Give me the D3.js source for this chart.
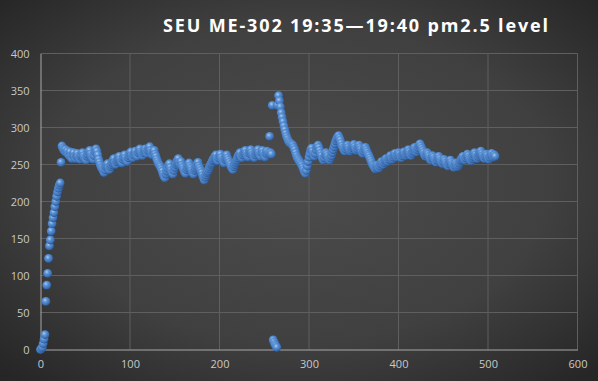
<!DOCTYPE html>
<html><head><meta charset="utf-8">
<script src="https://cdn.jsdelivr.net/npm/d3@7"></script>
<style>html,body{margin:0;padding:0;background:#333;}svg{display:block;}</style>
</head><body>
<script>
const titleText = "SEU ME-302 19:35\u201419:40 pm2.5 level";
const xTicks = [0, 100, 200, 300, 400, 500, 600];
const yTicks = [0, 50, 100, 150, 200, 250, 300, 350, 400];
// pm2.5 readings, one per sample index (x = sample number)
const pm25 = [
0,1,3,8,14,20,65,87,103,123,
140,148,160,170,178,185,193,200,207,213,
218,222,225,253,275,272,270,268,270,266,
268,264,262,267,261,258,263,266,261,258,262,265,261,259,257,
261,263,266,262,259,257,256,261,264,267,269,264,261,259,257,
262,267,271,268,263,257,253,249,246,244,242,239,243,247,249,
251,246,243,247,250,253,256,258,253,250,254,257,259,261,257,
254,252,257,260,263,259,256,254,259,262,265,267,262,259,263,
266,268,263,261,266,269,271,267,265,262,266,269,271,268,265,
269,272,274,269,266,263,267,269,264,261,257,254,251,249,247,
244,241,237,234,232,237,241,245,249,251,246,242,239,237,242,
246,250,253,256,258,253,250,254,249,246,243,240,238,243,246,
249,252,248,245,242,239,237,242,245,248,251,253,248,245,242,
239,235,232,229,233,236,239,241,244,247,250,252,255,257,259,
261,263,258,255,259,262,264,259,256,254,252,257,260,263,259,
256,253,250,247,245,243,247,250,253,256,259,262,264,266,261,
259,263,266,268,269,265,262,260,265,268,270,266,263,261,259,
263,266,268,270,266,263,261,266,269,265,262,260,265,268,264,
266,288,266,264,330,
13,10,7,5,3,
330,343,336,328,320,314,308,302,297,292,288,285,282,280,279,
278,277,276,273,270,266,262,259,257,255,253,251,249,246,243,240,
238,242,248,254,260,265,270,272,268,264,261,265,270,274,276,273,269,265,262,258,256,259,263,266,
264,261,258,256,259,262,266,270,274,278,282,285,287,289,286,
283,279,275,272,270,268,271,274,276,273,270,268,270,273,275,
277,274,271,269,271,274,276,273,270,267,265,268,271,273,270,
267,264,262,259,256,253,250,248,246,244,246,249,247,245,248,
251,254,252,250,253,256,258,256,254,257,260,262,259,257,260,
263,265,262,260,263,266,264,261,259,262,265,267,264,262,265,
268,270,267,264,262,265,268,271,273,270,267,270,273,276,278,
275,272,269,266,263,261,263,266,264,261,258,256,259,262,260,
257,255,253,256,259,261,258,255,253,251,254,257,255,252,250,
248,251,254,256,253,250,248,246,249,252,250,247,249,252,255,
257,259,261,258,256,259,262,264,262,259,257,255,258,261,264,
266,263,260,258,261,264,266,268,265,262,260,258,261,264,262,
259,257,260,263,265,262,260,263,261
];

const W = 598, H = 381;
const svg = d3.select("body").append("svg").attr("width", W).attr("height", H);
const defs = svg.append("defs");

const bg = defs.append("radialGradient").attr("id", "bg")
  .attr("cx", "50%").attr("cy", "48%").attr("r", "70%");
bg.append("stop").attr("offset", "0%").attr("stop-color", "#4c4c4c");
bg.append("stop").attr("offset", "60%").attr("stop-color", "#404040");
bg.append("stop").attr("offset", "100%").attr("stop-color", "#262626");

const ball = defs.append("radialGradient").attr("id", "ball")
  .attr("cx", "40%").attr("cy", "35%").attr("r", "65%");
ball.append("stop").attr("offset", "0%").attr("stop-color", "#a9cdf3");
ball.append("stop").attr("offset", "35%").attr("stop-color", "#5b93d6");
ball.append("stop").attr("offset", "80%").attr("stop-color", "#3d70b3");
ball.append("stop").attr("offset", "100%").attr("stop-color", "#2c5590");

svg.append("rect").attr("width", W).attr("height", H).attr("fill", "url(#bg)");

const x = d3.scaleLinear().domain([0, 600]).range([40.5, 577.5]);
const y = d3.scaleLinear().domain([0, 400]).range([349.5, 53.5]);

// gridlines
const grid = svg.append("g");
grid.selectAll(".hg").data(yTicks.filter(d => d > 0)).join("line")
  .attr("x1", x(0)).attr("x2", x(600)).attr("y1", d => y(d)).attr("y2", d => y(d))
  .attr("stroke", "#5f5f5f").attr("stroke-width", 1);
grid.selectAll(".vg").data(xTicks.filter(d => d > 0)).join("line")
  .attr("y1", y(0)).attr("y2", y(400)).attr("x1", d => x(d)).attr("x2", d => x(d))
  .attr("stroke", "#5f5f5f").attr("stroke-width", 1);

// axes
const xAxis = svg.append("g").attr("transform", `translate(0,${y(0)})`)
  .call(d3.axisBottom(x).tickValues(xTicks).tickSize(0).tickPadding(11));
const yAxis = svg.append("g").attr("transform", `translate(${x(0)},0)`)
  .call(d3.axisLeft(y).tickValues(yTicks).tickSize(0).tickPadding(11));
[xAxis, yAxis].forEach(g => {
  g.select(".domain").attr("stroke", "#a8a8a8").attr("stroke-width", 1);
  g.selectAll("text").attr("fill", "#c9c9c9").attr("font-size", "11px")
    .attr("font-family", "'Open Sans', 'Liberation Sans', sans-serif");
});

// points
svg.append("g").selectAll("circle").data(pm25).join("circle")
  .attr("cx", (d, i) => x(i)).attr("cy", d => y(d)).attr("r", 4.4)
  .attr("fill", "url(#ball)");

// title
svg.append("text").attr("x", 163).attr("y", 32)
  .attr("fill", "#ffffff").attr("font-size", "18px").attr("font-weight", "bold")
  .attr("font-family", "'Open Sans', 'Liberation Sans', sans-serif")
  .attr("textLength", 385).attr("lengthAdjust", "spacing")
  .text(titleText);
</script>
</body></html>
